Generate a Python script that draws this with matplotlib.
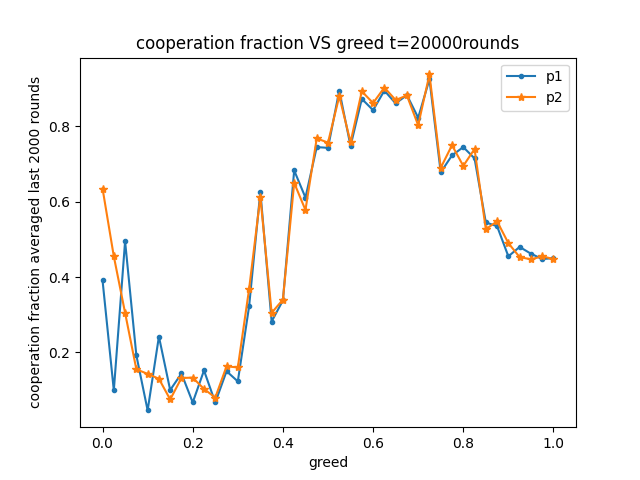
import matplotlib
matplotlib.use("Agg")
import matplotlib.pyplot as plt
import numpy as np

greed = np.linspace(0, 1, 41)
p1 = [0.391, 0.099, 0.495, 0.192, 0.046, 0.242, 0.100, 0.144, 0.067, 0.152,
      0.067, 0.150, 0.123, 0.322, 0.627, 0.282, 0.338, 0.683, 0.611, 0.745,
      0.743, 0.895, 0.748, 0.873, 0.843, 0.895, 0.861, 0.883, 0.823, 0.925,
      0.678, 0.723, 0.745, 0.715, 0.545, 0.535, 0.455, 0.480, 0.462, 0.448, 0.450]
p2 = [0.635, 0.455, 0.305, 0.155, 0.143, 0.130, 0.075, 0.132, 0.133, 0.103,
      0.080, 0.163, 0.160, 0.368, 0.613, 0.305, 0.340, 0.650, 0.578, 0.768,
      0.757, 0.880, 0.758, 0.893, 0.862, 0.903, 0.870, 0.882, 0.803, 0.938,
      0.690, 0.750, 0.695, 0.740, 0.527, 0.548, 0.490, 0.453, 0.447, 0.455, 0.448]

plt.figure(figsize=(6.4, 4.8), dpi=100)
plt.plot(greed, p1, marker=".", label="p1")
plt.plot(greed, p2, marker="*", label="p2")
plt.title("cooperation fraction VS greed t=20000rounds")
plt.xlabel("greed")
plt.ylabel("cooperation fraction averaged last 2000 rounds")
plt.legend()
plt.savefig("out.png")
